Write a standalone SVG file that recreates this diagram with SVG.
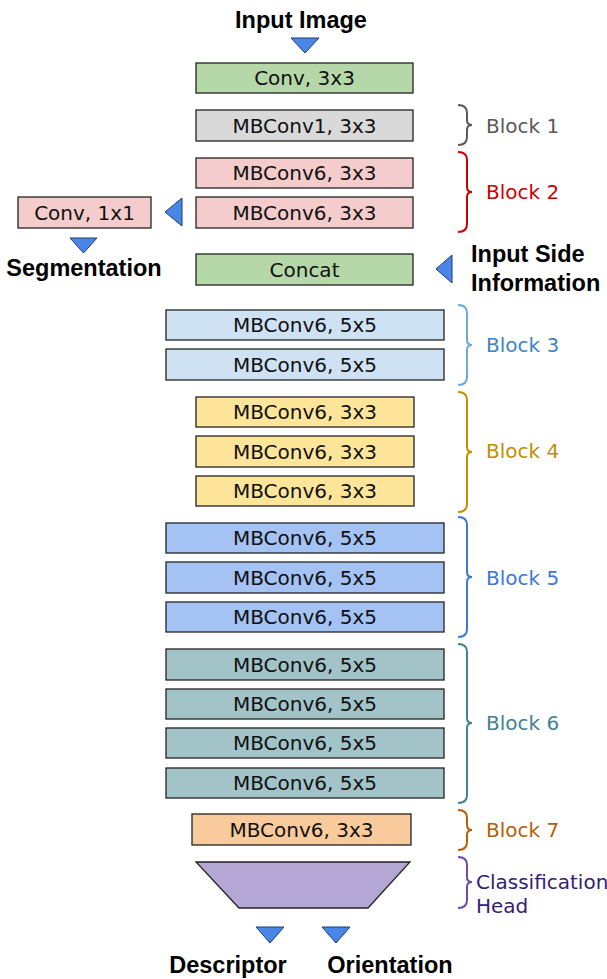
<svg xmlns="http://www.w3.org/2000/svg" width="607" height="979" viewBox="0 0 607 979">
<style>
.box{stroke:#222;stroke-width:1.3}
.t{font-family:"DejaVu Sans",Verdana,sans-serif;font-size:20px;fill:#111;text-anchor:middle;dominant-baseline:central}
.lbl{font-family:"DejaVu Sans",Verdana,sans-serif;font-size:20px}
.b{font-family:"Liberation Sans",Arial,sans-serif;font-weight:bold;font-size:23.5px;fill:#000}
.tri{fill:#4a86e8;stroke:#1c3d73;stroke-width:1}
.br{fill:none;stroke-width:2}
.g{fill:#b6d7a8}.gr{fill:#d9d9d9}.p{fill:#f4cccc}.lb{fill:#cfe2f3}.y{fill:#ffe599}.bl{fill:#a4c2f4}.tl{fill:#a2c4c9}.o{fill:#f9cb9c}.pu{fill:#b4a7d6}
</style>
<rect width="607" height="979" fill="#fff"/>
<g id="connectors">
<polygon class="tri" points="291,38 319,38 305,53"/>
<polygon class="tri" points="182,198 182,226 165,212"/>
<polygon class="tri" points="70,238 97,238 83.5,253"/>
<polygon class="tri" points="452,255 452,283 436,269"/>
<polygon class="tri" points="256,927 284,927 270,943"/>
<polygon class="tri" points="322,927 350,927 336,943"/>
</g>
<g id="labels">
<text class="b" x="301" y="28" text-anchor="middle">Input Image</text>
<text class="b" x="84" y="276" text-anchor="middle">Segmentation</text>
<text class="b" x="471" y="262">Input Side</text>
<text class="b" x="471" y="291">Information</text>
<text class="b" x="228" y="973" text-anchor="middle">Descriptor</text>
<text class="b" x="390" y="973" text-anchor="middle">Orientation</text>
</g>
<g id="stem"><rect class="box g" x="196" y="63" width="217" height="30"/><text class="t" x="304.5" y="78">Conv, 3x3</text></g>
<g id="block1">
<rect class="box gr" x="196" y="110" width="217" height="31"/><text class="t" x="304.5" y="126">MBConv1, 3x3</text>
<path class="br" stroke="#595959" d="M458,105 Q467,105 467,113 L467,120 Q467,125 472,125 Q467,125 467,130 L467,137 Q467,145 458,145"/>
<text class="lbl" x="486" y="133" fill="#595959">Block 1</text>
</g>
<g id="block2">
<rect class="box p" x="196" y="158" width="217" height="30"/><text class="t" x="304.5" y="173">MBConv6, 3x3</text>
<rect class="box p" x="196" y="197" width="217" height="31"/><text class="t" x="304.5" y="213">MBConv6, 3x3</text>
<path class="br" stroke="#cc0000" d="M458,152 Q467,152 467,160 L467,187 Q467,192 472,192 Q467,192 467,197 L467,224 Q467,232 458,232"/>
<text class="lbl" x="486" y="199" fill="#cc0000">Block 2</text>
</g>
<g id="seg"><rect class="box p" x="18" y="197" width="133" height="31"/><text class="t" x="84.5" y="213">Conv, 1x1</text></g>
<g id="concat"><rect class="box g" x="196" y="254" width="217" height="31"/><text class="t" x="304.5" y="270">Concat</text></g>
<g id="block3">
<rect class="box lb" x="166" y="310" width="278" height="30"/><text class="t" x="305" y="325">MBConv6, 5x5</text>
<rect class="box lb" x="166" y="349" width="278" height="31"/><text class="t" x="305" y="365">MBConv6, 5x5</text>
<path class="br" stroke="#6fa8dc" d="M458,305 Q467,305 467,313 L467,340 Q467,345 472,345 Q467,345 467,350 L467,377 Q467,385 458,385"/>
<text class="lbl" x="486" y="352" fill="#3d85c6">Block 3</text>
</g>
<g id="block4">
<rect class="box y" x="196" y="397" width="218" height="30"/><text class="t" x="305" y="412">MBConv6, 3x3</text>
<rect class="box y" x="196" y="436" width="218" height="31"/><text class="t" x="305" y="452">MBConv6, 3x3</text>
<rect class="box y" x="196" y="476" width="218" height="30"/><text class="t" x="305" y="491">MBConv6, 3x3</text>
<path class="br" stroke="#bf9000" d="M458,392 Q467,392 467,400 L467,447 Q467,452 472,452 Q467,452 467,457 L467,504 Q467,512 458,512"/>
<text class="lbl" x="486" y="458" fill="#bf9000">Block 4</text>
</g>
<g id="block5">
<rect class="box bl" x="166" y="523" width="278" height="30"/><text class="t" x="305" y="538">MBConv6, 5x5</text>
<rect class="box bl" x="166" y="562" width="278" height="31"/><text class="t" x="305" y="578">MBConv6, 5x5</text>
<rect class="box bl" x="166" y="602" width="278" height="30"/><text class="t" x="305" y="617">MBConv6, 5x5</text>
<path class="br" stroke="#3c78d8" d="M458,517 Q467,517 467,525 L467,572 Q467,577 472,577 Q467,577 467,582 L467,629 Q467,637 458,637"/>
<text class="lbl" x="486" y="585" fill="#3c78d8">Block 5</text>
</g>
<g id="block6">
<rect class="box tl" x="166" y="649" width="278" height="31"/><text class="t" x="305" y="665">MBConv6, 5x5</text>
<rect class="box tl" x="166" y="689" width="278" height="30"/><text class="t" x="305" y="704">MBConv6, 5x5</text>
<rect class="box tl" x="166" y="728" width="278" height="30"/><text class="t" x="305" y="743">MBConv6, 5x5</text>
<rect class="box tl" x="166" y="768" width="278" height="30"/><text class="t" x="305" y="783">MBConv6, 5x5</text>
<path class="br" stroke="#45818e" d="M458,644 Q467,644 467,652 L467,718 Q467,723 472,723 Q467,723 467,728 L467,795 Q467,803 458,803"/>
<text class="lbl" x="486" y="730" fill="#45818e">Block 6</text>
</g>
<g id="block7">
<rect class="box o" x="192" y="814" width="219" height="31"/><text class="t" x="301.5" y="830">MBConv6, 3x3</text>
<path class="br" stroke="#b45f06" d="M458,810 Q467,810 467,818 L467,825 Q467,830 472,830 Q467,830 467,835 L467,842 Q467,850 458,850"/>
<text class="lbl" x="486" y="837" fill="#b45f06">Block 7</text>
</g>
<g id="head">
<polygon class="box pu" points="196,862 410,862 368,908 239,908"/>
<path class="br" stroke="#674ea7" d="M458,857 Q467,857 467,865 L467,877 Q467,882 472,882 Q467,882 467,887 L467,900 Q467,908 458,908"/>
<text class="lbl" x="476" y="889" fill="#351c75">Classification</text>
<text class="lbl" x="476" y="913" fill="#351c75">Head</text>
</g>
</svg>
